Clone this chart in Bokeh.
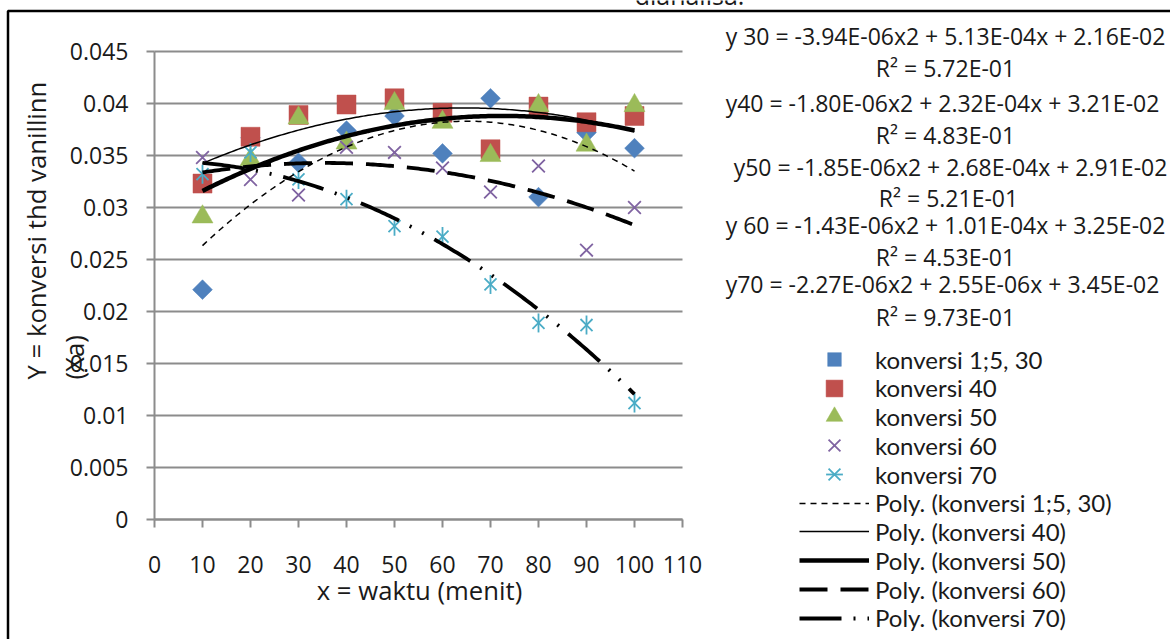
import numpy as np
from bokeh.plotting import figure
from bokeh.models import (Range1d, Legend, LegendItem, Label, BoxAnnotation,
                          CustomJSTickFormatter, FixedTicker)
from bokeh.embed import file_html
from bokeh.resources import INLINE

# ---------------- data ----------------
waktu = [10, 20, 30, 40, 50, 60, 70, 80, 90, 100]
konv30 = [0.0221, 0.0367, 0.0343, 0.0374, 0.0388, 0.0352, 0.0405, 0.0310, 0.0372, 0.0357]
konv40 = [0.0323, 0.0368, 0.0389, 0.0399, 0.0405, 0.0391, 0.0356, 0.0397, 0.0382, 0.0388]
konv50 = [0.0291, 0.0346, 0.0386, 0.0362, 0.0400, 0.0382, 0.0350, 0.0398, 0.0360, 0.0398]
konv60 = [0.0348, 0.0327, 0.0312, 0.0358, 0.0353, 0.0338, 0.0315, 0.0340, 0.0259, 0.0300]
konv70 = [0.0332, 0.0353, 0.0327, 0.0308, 0.0282, 0.0272, 0.0226, 0.0189, 0.0187, 0.0112]

series_names = ["konversi 1;5, 30", "konversi 40", "konversi 50", "konversi 60", "konversi 70"]

# trendline coefficients (as printed on the chart): a*x^2 + b*x + c
poly_a = [-3.94e-06, -1.80e-06, -1.85e-06, -1.43e-06, -2.27e-06]
poly_b = [5.13e-04, 2.32e-04, 2.68e-04, 1.01e-04, 2.55e-06]
poly_c = [2.16e-02, 3.21e-02, 2.91e-02, 3.25e-02, 3.45e-02]

equations = [
    "y 30 = -3.94E-06x2 + 5.13E-04x + 2.16E-02",
    "R\u00b2 = 5.72E-01",
    "y40  = -1.80E-06x2 + 2.32E-04x + 3.21E-02",
    "R\u00b2 = 4.83E-01",
    "y50 = -1.85E-06x2 + 2.68E-04x + 2.91E-02",
    "R\u00b2 = 5.21E-01",
    "y 60 = -1.43E-06x2 + 1.01E-04x + 3.25E-02",
    "R\u00b2 = 4.53E-01",
    "y70  = -2.27E-06x2 + 2.55E-06x + 3.45E-02",
    "R\u00b2 = 9.73E-01",
]

x_ticks = [0, 10, 20, 30, 40, 50, 60, 70, 80, 90, 100, 110]
y_ticks = [0, 0.005, 0.01, 0.015, 0.02, 0.025, 0.03, 0.035, 0.04, 0.045]

FONT = "Open Sans"
LEG_FONT = "Lato"
TXT = "#1a1a1a"
C30, C40, C50, C60, C70 = "#4F81BD", "#C0504D", "#9BBB59", "#8064A2", "#4BACC6"

# ---------------- geometry (page pixels of the reference) ----------------
OFFX, OFFY = 1, 1          # where the canvas starts on the page
W, H = 1170, 639
X0_PX, X1_PX = 155, 683    # x = 0 and x = 110
Y0_PX, Y1_PX = 520, 52     # y = 0 and y = 0.045
sx = (X1_PX - X0_PX) / (x_ticks[-1] - x_ticks[0])
sy = (Y0_PX - Y1_PX) / (y_ticks[-1] - y_ticks[0])


def dx(xp):
    return (xp - X0_PX) / sx


def dy(yp):
    return (Y0_PX - yp) / sy


p = figure(width=W, height=H,
           min_border_left=0, min_border_right=0, min_border_top=0, min_border_bottom=0,
           x_range=Range1d(dx(OFFX), dx(OFFX + W)),
           y_range=Range1d(dy(OFFY + H), dy(OFFY)),
           output_backend="svg", toolbar_location=None,
           background_fill_color="white", border_fill_color="white")
p.outline_line_color = None
p.xgrid.visible = False
p.ygrid.visible = False

GRAY = "#8c8c8c"

# horizontal gridlines between the first and last x tick
p.segment(x0=[x_ticks[0]] * len(y_ticks), x1=[x_ticks[-1]] * len(y_ticks),
          y0=y_ticks, y1=y_ticks, line_color=GRAY, line_width=2)

for ax in (p.xaxis[0], p.yaxis[0]):
    ax.fixed_location = 0
    ax.axis_line_color = GRAY
    ax.axis_line_width = 2
    ax.major_tick_line_color = GRAY
    ax.major_tick_line_width = 2
    ax.major_tick_in = 0
    ax.major_tick_out = 8
    ax.minor_tick_line_color = None
    ax.major_label_text_font = FONT
    ax.major_label_text_font_size = "23px"
    ax.major_label_text_color = TXT

p.xaxis.ticker = FixedTicker(ticks=x_ticks)
p.yaxis.ticker = FixedTicker(ticks=y_ticks)
p.xaxis.bounds = (x_ticks[0], x_ticks[-1])
p.yaxis.bounds = (y_ticks[0], y_ticks[-1])
p.yaxis.formatter = CustomJSTickFormatter(code="return parseFloat(tick.toFixed(4)).toString();")
p.xaxis.major_label_standoff = 28
p.yaxis.major_label_standoff = 18

# ---------------- markers ----------------
r30 = p.scatter(waktu, konv30, marker="square", size=14, angle=np.pi / 4,
                fill_color=C30, line_color=C30, line_width=0.5)
r40 = p.scatter(waktu, konv40, marker="square", size=19,
                fill_color=C40, line_color=C40, line_width=0.5)
r50 = p.scatter(waktu, konv50, marker="triangle", size=21,
                fill_color=C50, line_color=C50, line_width=0.5)
r60 = p.scatter(waktu, konv60, marker="x", size=18,
                line_color=C60, line_width=1.8)
r70a = p.scatter(waktu, konv70, marker="x", size=17,
                 line_color=C70, line_width=1.8)
r70b = p.scatter(waktu, konv70, marker="dash", size=19, angle=np.pi / 2,
                 line_color=C70, line_width=1.8)

# ---------------- trendlines ----------------
xs = np.linspace(min(waktu), max(waktu), 181)
styles = [
    dict(line_width=1.5, line_dash="6 5"),
    dict(line_width=1.5, line_dash="solid"),
    dict(line_width=4.5, line_dash="solid"),
    dict(line_width=3.8, line_dash="28 13"),
    dict(line_width=3.8, line_dash="42 12 2 12 2 12"),
]
trend = []
for a, b, c, st in zip(poly_a, poly_b, poly_c, styles):
    ys = a * xs ** 2 + b * xs + c
    trend.append(p.line(xs, ys, line_color="black", **st))

# ---------------- legend (one entry per row, rows 29 px apart as in Excel) ----------------
items = [
    LegendItem(label=series_names[0], renderers=[r30]),
    LegendItem(label=series_names[1], renderers=[r40]),
    LegendItem(label=series_names[2], renderers=[r50]),
    LegendItem(label=series_names[3], renderers=[r60]),
    LegendItem(label=series_names[4], renderers=[r70a, r70b]),
] + [LegendItem(label="Poly. (%s)" % n, renderers=[t]) for n, t in zip(series_names, trend)]

row_centers = [360, 388.5, 417, 446, 475, 503.5, 532, 561, 590, 618.5]
glyph_heights = [34, 42, 42, 42, 42, 34, 34, 34, 34, 34]
canvas_bottom = OFFY + H
for item, yc, gh in zip(items, row_centers, glyph_heights):
    lg = Legend(items=[item], location=(800 - OFFX, canvas_bottom - (yc + gh / 2)),
                glyph_width=70, glyph_height=gh, label_height=gh,
                label_standoff=6, spacing=0, padding=0, margin=0,
                border_line_color=None, background_fill_alpha=0,
                label_text_font=LEG_FONT, label_text_font_size="24px",
                label_text_color=TXT)
    p.add_layout(lg)

# ---------------- texts ----------------
eq_pos = [(946, 36), (946, 68), (946, 103), (946, 135), (951, 167),
          (949, 198), (946, 225), (946, 257), (946, 284), (946, 317)]
for txt, (xp, yp) in zip(equations, eq_pos):
    p.add_layout(Label(x=dx(xp), y=dy(yp), text=txt, text_align="center",
                       text_baseline="middle", text_font=FONT,
                       text_font_size="23px", text_color=TXT))

p.add_layout(Label(x=dx(37), y=dy(380), text="Y = konversi thd vanillinn",
                   angle=np.pi / 2, text_align="left", text_baseline="middle",
                   text_font=FONT, text_font_size="25.7px", text_color=TXT))
p.add_layout(Label(x=dx(75), y=dy(380), text="(Xa)",
                   angle=np.pi / 2, text_align="left", text_baseline="middle",
                   text_font=FONT, text_font_size="25.7px", text_color=TXT))
p.add_layout(Label(x=dx(420), y=dy(591), text="x = waktu (menit)",
                   text_align="center", text_baseline="middle",
                   text_font=FONT, text_font_size="25.7px", text_color=TXT))
p.add_layout(Label(x=dx(690), y=dy(-5), text="dianalisa.",
                   text_align="center", text_baseline="alphabetic",
                   text_font=FONT, text_font_size="25px", text_color=TXT))

# outer chart border (continues past the right and bottom edges)
p.add_layout(BoxAnnotation(left=dx(8.5), right=dx(1400), top=dy(11.5), bottom=dy(900),
                           fill_alpha=0, line_color="black", line_alpha=1.0,
                           line_width=2.5))

open("out.html", "w").write(file_html(p, INLINE))
